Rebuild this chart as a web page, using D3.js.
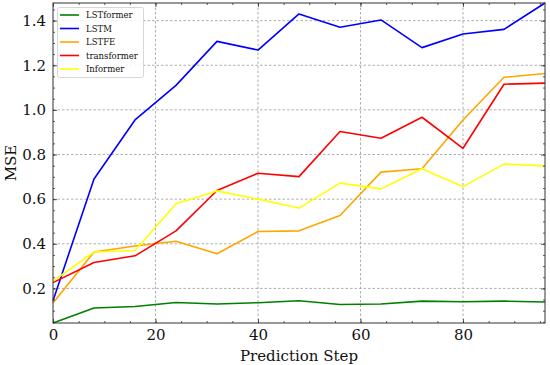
<!DOCTYPE html>
<html><head><meta charset="utf-8">
<script src="https://cdn.jsdelivr.net/npm/d3@7"></script>
<style>body{margin:0;background:#fff}svg{display:block}</style>
</head><body><svg id="c" width="550" height="365"></svg>
<script>
const steps = [0, 8, 16, 24, 32, 40, 48, 56, 64, 72, 80, 88, 96];
const lstformer = [0.045, 0.112, 0.119, 0.137, 0.130, 0.136, 0.145, 0.128, 0.130, 0.143, 0.140, 0.143, 0.139];
const lstm = [0.145, 0.690, 0.955, 1.110, 1.307, 1.268, 1.430, 1.370, 1.403, 1.279, 1.340, 1.361, 1.479];
const lstfe = [0.135, 0.363, 0.390, 0.411, 0.355, 0.455, 0.458, 0.527, 0.721, 0.736, 0.955, 1.146, 1.163];
const transformer = [0.226, 0.316, 0.346, 0.458, 0.639, 0.716, 0.701, 0.903, 0.873, 0.967, 0.828, 1.115, 1.120];
const informer = [0.233, 0.363, 0.370, 0.579, 0.637, 0.600, 0.560, 0.672, 0.646, 0.736, 0.656, 0.757, 0.749];
const seriesNames = ["LSTformer", "LSTM", "LSTFE", "transformer", "Informer"];
const seriesColors = ["#008000", "#0000ff", "#ffa500", "#ff0000", "#ffff00"];
const xTicks = [0, 20, 40, 60, 80];
const yTicks = [0.2, 0.4, 0.6, 0.8, 1.0, 1.2, 1.4];

const allSeries = [lstformer, lstm, lstfe, transformer, informer];
const svg = d3.select("#c");
const L = 53, R = 545, T = 3, B = 323;
const x = d3.scaleLinear().domain([0, 96]).range([L, R]);
const yMin = d3.min(allSeries.flat()), yMax = d3.max(allSeries.flat());
const y = d3.scaleLinear().domain([yMin, yMax]).range([B, T]);
const font = "DejaVu Serif, serif";

// grid
const g = svg.append("g");
g.selectAll(".gx").data(xTicks.filter(d => d > 0)).enter().append("line")
  .attr("x1", d => x(d)).attr("x2", d => x(d)).attr("y1", T).attr("y2", B)
  .attr("stroke", "#9a9a9a").attr("stroke-width", 0.8).attr("stroke-dasharray", "2.5,2");
g.selectAll(".gy").data(yTicks).enter().append("line")
  .attr("y1", d => y(d)).attr("y2", d => y(d)).attr("x1", L).attr("x2", R)
  .attr("stroke", "#9a9a9a").attr("stroke-width", 0.8).attr("stroke-dasharray", "2.5,2");

// lines
const line = d3.line().x((d, i) => x(steps[i])).y(d => y(d));
allSeries.forEach((s, k) => {
  svg.append("path").datum(s).attr("d", line).attr("fill", "none")
    .attr("stroke", seriesColors[k]).attr("stroke-width", 1.6).attr("stroke-linejoin", "round");
});

// axes (ticks inward)
const xMinor = d3.range(0, 97, 5);
const yMinor = d3.range(0.05, 1.5, 0.05).filter(v => v >= yMin && v <= yMax);
function ax(gen, tr, major, minor, labels, pad) {
  const a = svg.append("g").attr("transform", tr);
  a.call(gen.tickValues(minor).tickSize(-2).tickFormat(""));
  a.select(".domain").remove();
  const b = svg.append("g").attr("transform", tr);
  b.call(gen.tickValues(major).tickSize(-4).tickPadding(pad).tickFormat(labels ? (d => d3.format(".1f")(d)) : ""));
  b.select(".domain").remove();
  [a, b].forEach(s => s.selectAll("line").attr("stroke", "#333").attr("stroke-width", 0.8));
  return b;
}
const xb = ax(d3.axisBottom(x), `translate(0,${B})`, xTicks, xMinor, false, 6);
xb.selectAll("text").text(d => d).attr("font-family", font).attr("font-size", 15).attr("fill", "#111");
ax(d3.axisTop(x), `translate(0,${T})`, xTicks, xMinor, false, 6).selectAll("text").remove();
const yb = ax(d3.axisLeft(y), `translate(${L},0)`, yTicks, yMinor, true, 7);
yb.selectAll("text").attr("font-family", font).attr("font-size", 15).attr("fill", "#111");
ax(d3.axisRight(y), `translate(${R},0)`, yTicks, yMinor, false, 6).selectAll("text").remove();

svg.append("rect").attr("x", L).attr("y", T).attr("width", R - L).attr("height", B - T)
  .attr("fill", "none").attr("stroke", "#333").attr("stroke-width", 1);

// axis labels
svg.append("text").attr("x", (L + R) / 2).attr("y", 361).attr("text-anchor", "middle")
  .attr("font-family", font).attr("font-size", 15).attr("fill", "#111").text("Prediction Step");
svg.append("text").attr("transform", `translate(16,${(T + B) / 2}) rotate(-90)`).attr("text-anchor", "middle")
  .attr("font-family", font).attr("font-size", 15).attr("fill", "#111").text("MSE");

// legend
const lg = svg.append("g");
lg.append("rect").attr("x", 57.5).attr("y", 7.5).attr("width", 86).attr("height", 70).attr("rx", 2)
  .attr("fill", "#fff").attr("fill-opacity", 0.85).attr("stroke", "#ccc").attr("stroke-width", 0.8);
seriesNames.forEach((n, i) => {
  const yy = 15 + i * 13.5;
  lg.append("line").attr("x1", 60).attr("x2", 79).attr("y1", yy).attr("y2", yy)
    .attr("stroke", seriesColors[i]).attr("stroke-width", 1.6);
  lg.append("text").attr("x", 86).attr("y", yy + 3).attr("font-family", font).attr("font-size", 8.5)
    .attr("fill", "#111").text(n);
});
</script></body></html>
